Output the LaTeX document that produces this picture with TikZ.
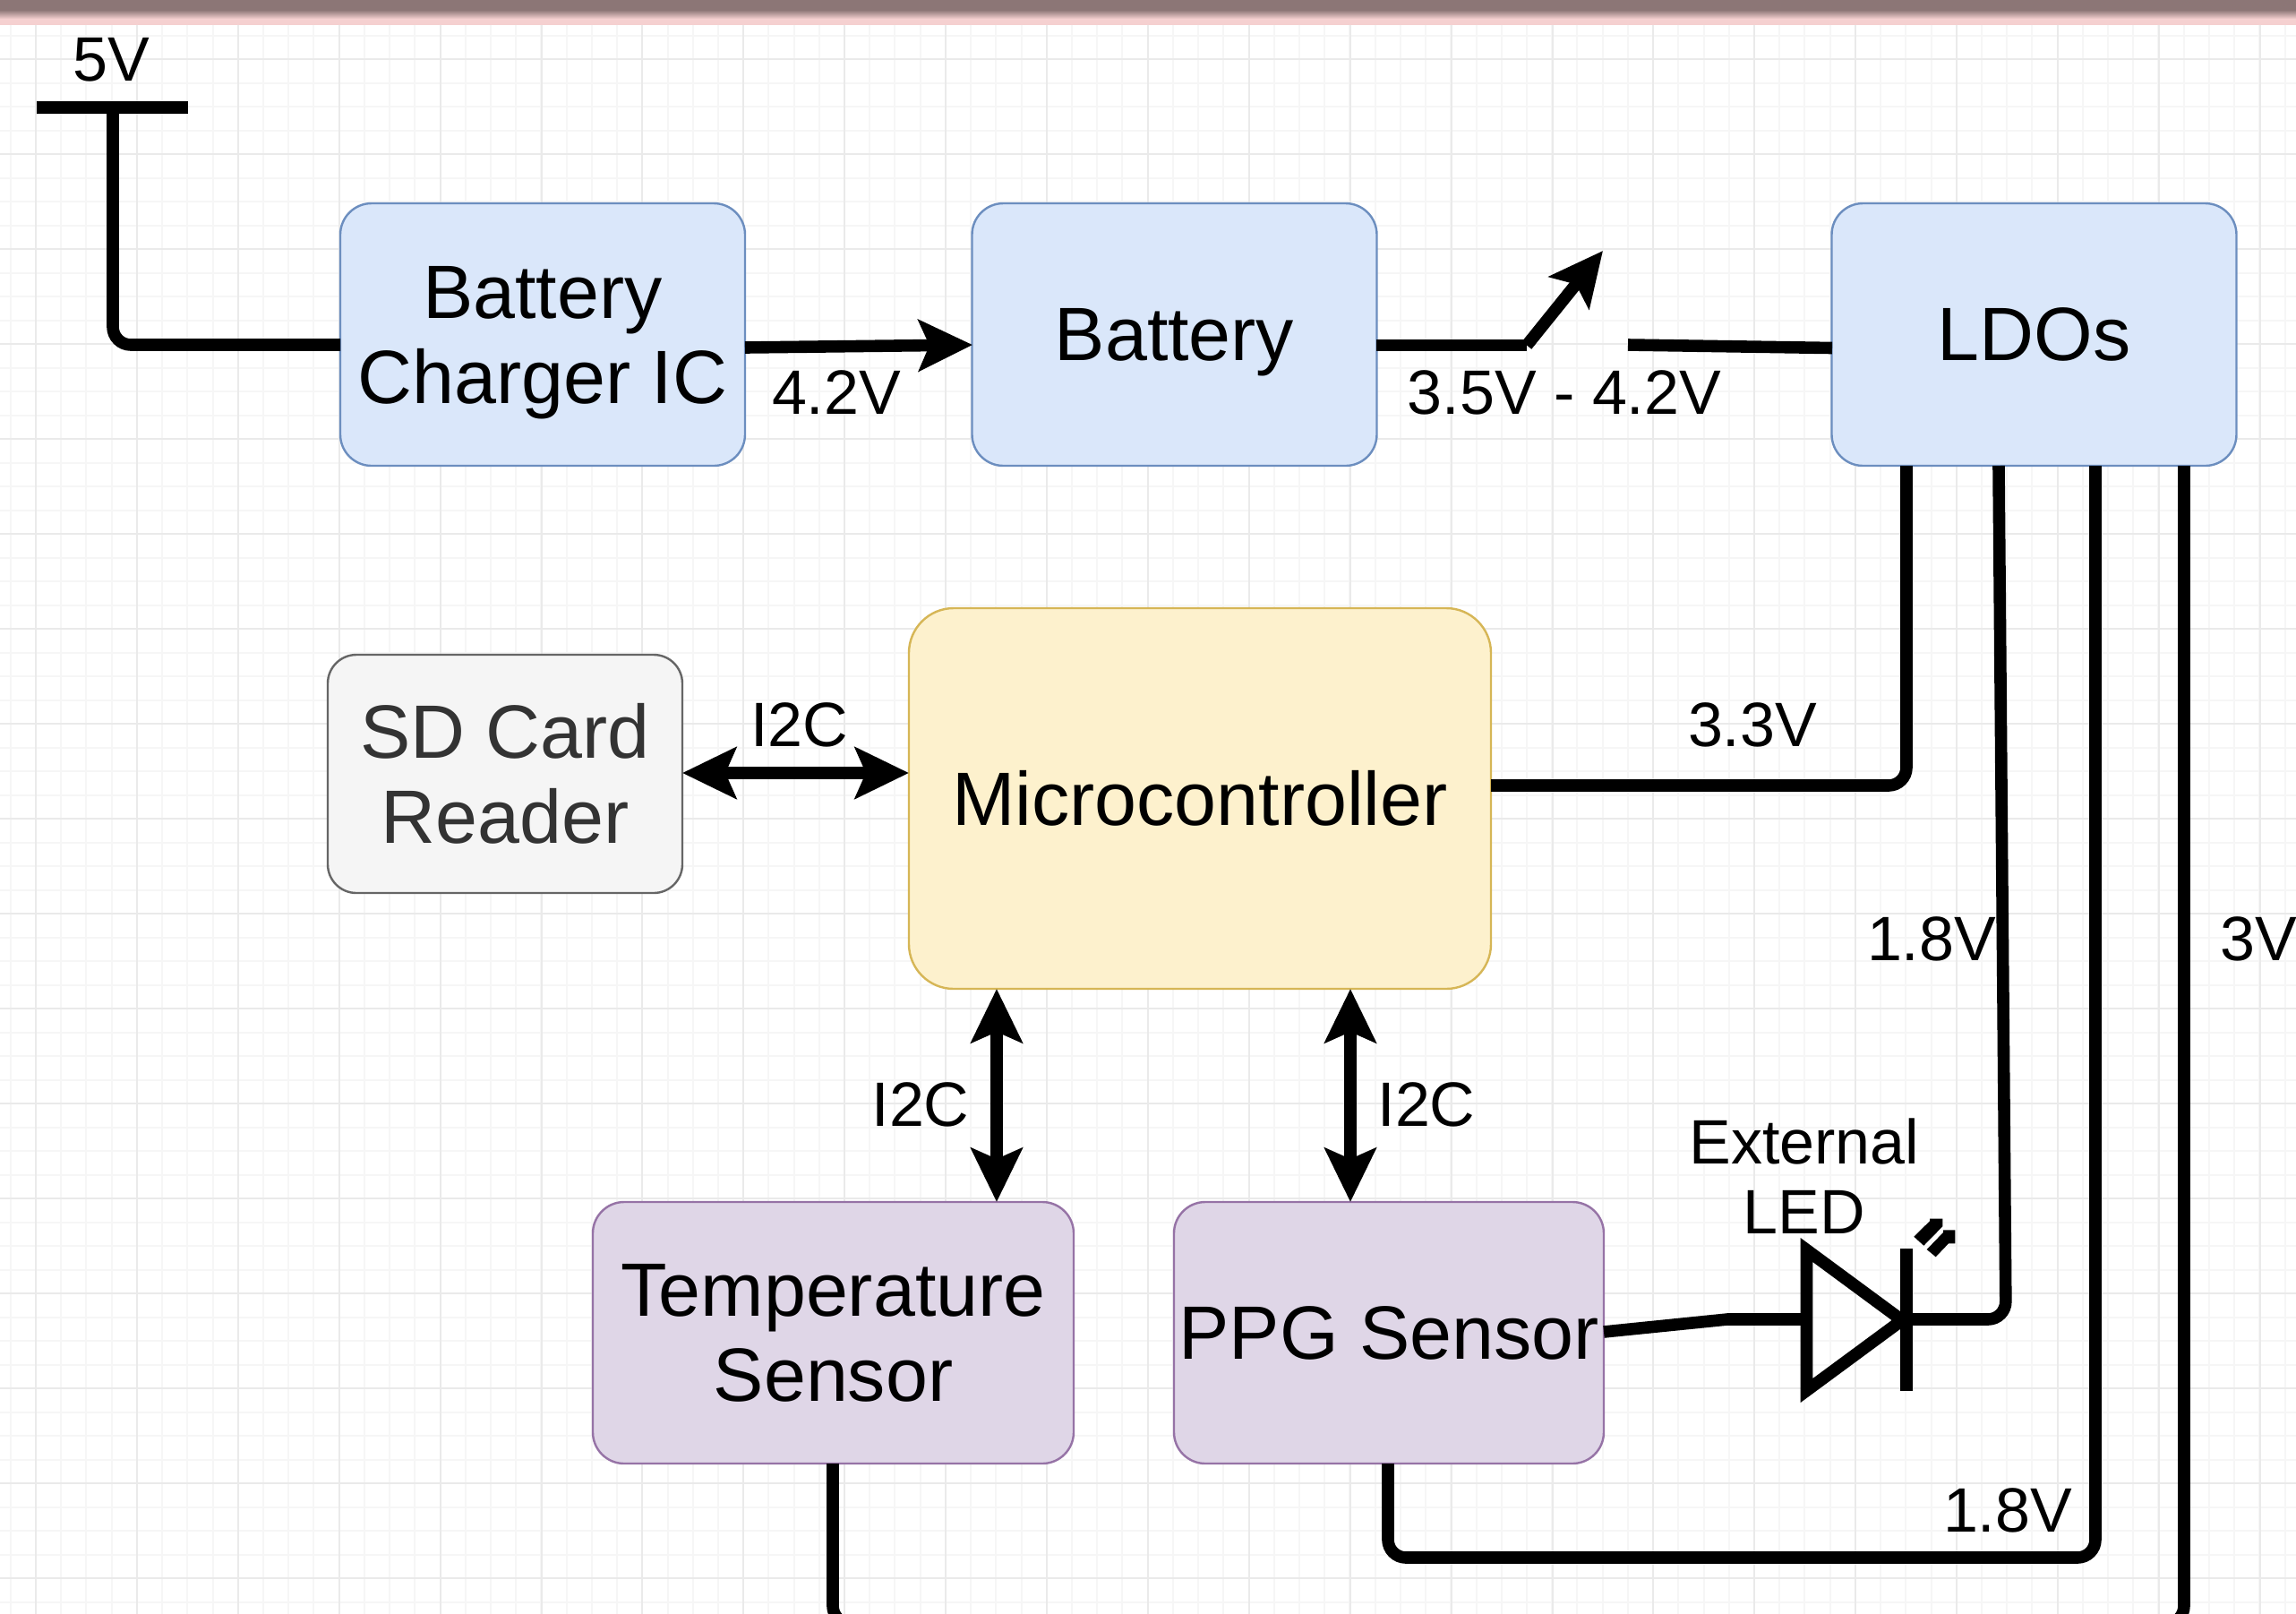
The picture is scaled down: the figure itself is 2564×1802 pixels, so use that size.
\documentclass[tikz,border=0pt]{standalone}
\usepackage{fontspec}
\setmainfont{Liberation Sans}
\usetikzlibrary{arrows.meta}
\definecolor{gridA}{HTML}{EAEAEA}
\definecolor{gridB}{HTML}{F6F6F6}
\definecolor{bandDark}{HTML}{8C7676}
\definecolor{bandPink}{HTML}{F5D0D0}
\tikzset{
  boxbase/.style={draw,line width=0.6pt,inner sep=0pt,outer sep=0pt,align=center,font=\fontsize{21.1}{23.75}\selectfont,text=black},
  bluebox/.style={boxbase,fill={rgb,255:red,218;green,231;blue,250},draw={rgb,255:red,108;green,142;blue,191},rounded corners=8.75pt,minimum width=113pt,minimum height=73.25pt},
  yellowbox/.style={boxbase,fill={rgb,255:red,253;green,241;blue,205},draw={rgb,255:red,214;green,182;blue,86},rounded corners=12.5pt,minimum width=162.5pt,minimum height=106.25pt},
  purplebox/.style={boxbase,fill={rgb,255:red,223;green,214;blue,231},draw={rgb,255:red,150;green,115;blue,166},rounded corners=8.75pt,minimum height=73pt},
  greybox/.style={boxbase,fill={rgb,255:red,245;green,245;blue,245},draw={rgb,255:red,102;green,102;blue,102},text={rgb,255:red,51;green,51;blue,51},rounded corners=8pt,minimum width=99pt,minimum height=66.5pt},
  wire/.style={line width=3.4pt,rounded corners=5pt,line join=round},
  tipped/.style={wire,-{Stealth[length=15pt,width=14.25pt,inset=3pt]}},
  dblarrow/.style={wire,{Stealth[length=15pt,width=14.25pt,inset=3pt]}-{Stealth[length=15pt,width=14.25pt,inset=3pt]}},
  lbl/.style={inner sep=0pt,outer sep=0pt,align=center,font=\fontsize{17.5}{19.5}\selectfont},
  ledline/.style={line width=3.4pt,line join=miter,miter limit=10},
}
\begin{document}
\begin{tikzpicture}[x=0.25pt,y=-0.25pt]
\useasboundingbox (0,0) rectangle (2564,1802);
\clip (0,0) rectangle (2564,1802);
\fill[white] (0,0) rectangle (2564,1802);
% grid
\foreach \i in {0,...,92} {\draw[gridB,line width=0.5pt] ({40-28.22+28.22*\i},0) -- ++(0,1802);}
\foreach \i in {0,...,70} {\draw[gridB,line width=0.5pt] (0,{-40+26.5*\i}) -- ++(2564,0);}
\foreach \i in {0,...,22} {\draw[gridA,line width=0.5pt] ({40+112.9*\i},0) -- ++(0,1802);}
\foreach \i in {0,...,17} {\draw[gridA,line width=0.5pt] (0,{66+106*\i}) -- ++(2564,0);}
% top band
\fill[bandPink] (0,0) rectangle (2564,27.5);
\shade[top color=bandDark,bottom color=bandPink] (0,11) rectangle (2564,21);
\fill[bandDark] (0,0) rectangle (2564,11.2);

% boxes
\node[bluebox,text depth=0pt] (charger) at (606,373.5) {Battery\\Charger IC};
\node[bluebox,text depth=0pt] (battery) at (1311.5,373.5) {Battery};
\node[bluebox] (ldo) at (2271.5,373.5) {LDOs};
\node[greybox] (sd) at (564,864) {SD Card\\Reader};
\node[yellowbox] (mcu) at (1340,891.5) {Microcontroller};
\node[purplebox,minimum width=134.25pt] (temp) at (930.5,1488) {Temperature\\Sensor};
\node[purplebox,minimum width=120pt] (ppg) at (1551,1488) {PPG Sensor};

% named points
\coordinate (barL) at (41,120);
\coordinate (barR) at (210,120);
\coordinate (barM) at (126,120);
\coordinate (chgIn) at (380,385);
\coordinate (chgOut) at (832,388);
\coordinate (batIn) at (1086,385);
\coordinate (batOut) at (1537,385.5);
\coordinate (swA) at (1705,385.5);
\coordinate (swTip) at (1790,280);
\coordinate (swB) at (1818,385);
\coordinate (ldoIn) at (2046,388.5);
\coordinate (ldoA) at (2129,520);
\coordinate (mcuIn) at (1665,877);
\coordinate (ldoB) at (2232,520);
\coordinate (ledBend) at (2240,1473);
\coordinate (cathode) at (2129,1473);
\coordinate (ldoC) at (2340,520);
\coordinate (ppgBelow) at (1550,1634);
\coordinate (ppgLow) at (1550,1739);
\coordinate (ldoD) at (2439,520);
\coordinate (offD) at (2425,1813);
\coordinate (tempOff) at (945,1813);
\coordinate (tempOut) at (930,1634);
\coordinate (sdOut) at (762,863);
\coordinate (mcuSd) at (1015,863);
\coordinate (mcuT) at (1113,1104);
\coordinate (tempT) at (1113,1342);
\coordinate (mcuP) at (1508,1104);
\coordinate (ppgT) at (1508,1342);
\coordinate (ppgOut) at (1791,1487);
\coordinate (ledBendB) at (1929,1473);
\coordinate (anode) at (2012,1473);
\coordinate (triA) at (2017.5,1395.5);
\coordinate (triB) at (2017.5,1552.5);
\coordinate (triC) at (2124,1474);
\coordinate (barTop) at (2129,1394);
\coordinate (barBot) at (2129,1553);

% connectors
\draw[line width=3.5pt] (barL) -- (barR);
\draw[wire] (barM) |- (chgIn);
\draw[tipped] (chgOut) -- (batIn);
\draw[line width=3.4pt] (batOut) -- (swA);
\draw[tipped] (swA) -- (swTip);
\draw[line width=3.4pt] (swB) -- (ldoIn);
\draw[wire] (ldoA) |- (mcuIn);
\draw[wire] (ldoB) -- (ledBend) -- (cathode);
\draw[wire] (ldoC) |- (ppgLow) -- (ppgBelow);
\draw[wire] (ldoD) |- (offD);
\draw[wire] (tempOut) |- (tempOff);
\draw[dblarrow] (sdOut) -- (mcuSd);
\draw[dblarrow] (mcuT) -- (tempT);
\draw[dblarrow] (mcuP) -- (ppgT);
\draw[line width=3.4pt,line join=round] (ppgOut) -- (ledBendB) -- (anode);

% LED symbol
\draw[ledline] (triA) -- (triB) -- (triC) -- cycle;
\draw[line width=3.5pt] (barTop) -- (barBot);
\fill (2137.3,1380.7) -- (2155,1363.3) -- (2155,1360.7) -- (2169.3,1360.7) -- (2169.3,1369.3) -- (2148.3,1390.7) -- cycle;
\fill (2151.7,1395) -- (2170,1376) -- (2170,1373.3) -- (2183.3,1373.3) -- (2183.3,1388.3) -- (2176,1388.3) -- (2161.7,1403.3) -- cycle;

% labels
\node[lbl] (l5v) at (124,67) {5V};
\node[lbl] (l42) at (934,438) {4.2V};
\node[lbl] (l35) at (1747,438) {3.5V - 4.2V};
\node[lbl] (l33) at (1957,809) {3.3V};
\node[lbl] (li1) at (893,809) {I2C};
\node[lbl] (li2) at (1028,1233) {I2C};
\node[lbl] (li3) at (1593,1233) {I2C};
\node[lbl] (l18a) at (2157,1048) {1.8V};
\node[lbl] (l3v) at (2522,1048) {3V};
\node[lbl] (l18b) at (2242,1686) {1.8V};
\node[lbl] (lext) at (2015,1313) {External\\LED};
\end{tikzpicture}
\end{document}
